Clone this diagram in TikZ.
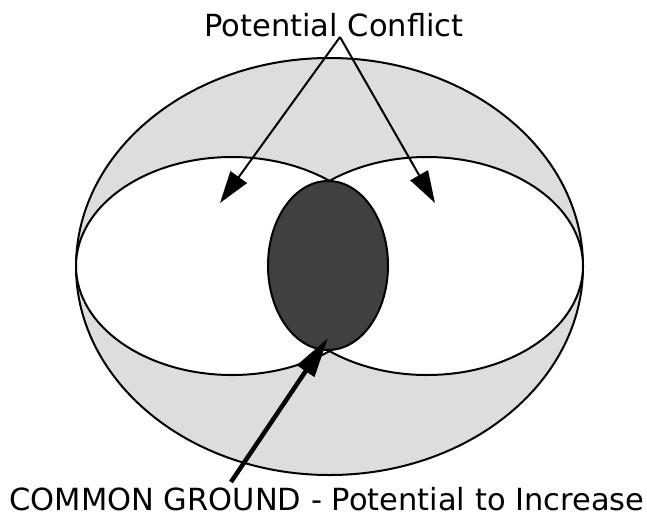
\documentclass[tikz,border=0pt]{standalone}
\usepackage{fontspec}
\setmainfont{DejaVu Sans}
\usepackage{xcolor}
\usetikzlibrary{arrows.meta, positioning, calc}
\definecolor{cLight}{RGB}{221,221,221}
\definecolor{cDark}{RGB}{64,64,64}

\begin{document}
\begin{tikzpicture}[x=1pt, y=-1pt, font=\fontsize{30.5}{32}\selectfont,
					outline/.style={line width=2pt, draw=black},
					pointer/.style={line width=2pt, -{Triangle[length=32pt, width=20pt]}},
					bigpointer/.style={line width=4.5pt, -{Triangle[length=40pt, width=20pt]}}]
					\useasboundingbox (0,0) rectangle (647,517);
					% regions
					\filldraw[outline, fill=cLight] (329.5,266.5) ellipse [x radius=253.5, y radius=208.5];
					\filldraw[outline, fill=white] (232,266) ellipse [x radius=156, y radius=109];
					\filldraw[outline, fill=white] (427,266) ellipse [x radius=156, y radius=109];
					\filldraw[outline, fill=cDark] (328,265.5) ellipse [x radius=60, y radius=84.5];
					% labels
					\node[anchor=base, inner sep=0pt] (conflict) at (334,36) {Potential Conflict};
					\node[anchor=base, inner sep=0pt] (ground) at (327,510) {COMMON GROUND - Potential to Increase};
					\coordinate (apex) at (340,37); \coordinate (tipL) at (220,203); \coordinate (tipR) at (435,203);
					\coordinate (tail) at (231,482); \coordinate (tipC) at (328,338);
					\draw[pointer] (apex) -- (tipL); \draw[pointer] (apex) -- (tipR);
					\draw[bigpointer] (tail) -- (tipC);
				\end{tikzpicture}
\end{document}
